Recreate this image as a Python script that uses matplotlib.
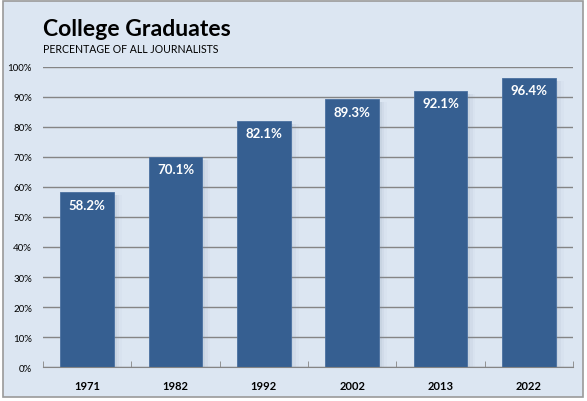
import matplotlib.pyplot as plt
from matplotlib.patches import Rectangle
from matplotlib.ticker import FuncFormatter

years = ["1971", "1982", "1992", "2002", "2013", "2022"]
pct = [58.2, 70.1, 82.1, 89.3, 92.1, 96.4]

plt.rcParams['font.family'] = ['Lato', 'DejaVu Sans']

bg = '#dce6f2'
bar_col = '#365f91'

fig = plt.figure(figsize=(5.87, 4.02), dpi=100, facecolor='white')
fig.patches.append(Rectangle((0.005, 0.01), 0.988, 0.985, transform=fig.transFigure,
                             facecolor=bg, edgecolor='#9a9a9a', linewidth=1.2, zorder=-1))

ax = fig.add_axes([43/587, 1 - 368/402, (573-43)/587, 300/402])
ax.set_facecolor('none')

x = list(range(len(years)))
w = 0.61
# soft shadow to the right of each bar
for xi, v in zip(x, pct):
    for k, a in enumerate([0.10, 0.07, 0.04]):
        ax.add_patch(Rectangle((xi - w/2 + 0.03 + 0.03*k, 0), w, v - 1.0, facecolor='#7f8fa6',
                               alpha=a, edgecolor='none', zorder=1.5))
ax.bar(x, pct, width=w, color=bar_col, edgecolor='#4a70a0', linewidth=0.6, zorder=2)

for xi, v in zip(x, pct):
    ax.text(xi, v - 2.2, f"{v:.1f}%", ha='center', va='top', color='white',
            fontsize=9.5, fontweight='bold', zorder=3)

ax.set_xlim(-0.5, len(years) - 0.5)
ax.set_ylim(0, 100)
ax.set_yticks(range(0, 101, 10))
ax.yaxis.set_major_formatter(FuncFormatter(lambda v, p: f"{int(v)}%"))
ax.yaxis.grid(True, color='#858585', linewidth=1.0)
ax.set_axisbelow(True)
ax.set_xticks(x)
ax.set_xticklabels(years, fontweight='bold', fontsize=8)
ax.tick_params(axis='x', length=0, pad=9)
ax.tick_params(axis='y', length=0, labelsize=7, pad=8)
ax.set_xticks([i - 0.5 for i in range(len(years) + 1)], minor=True)
ax.tick_params(axis='x', which='minor', length=4, color='#858585', direction='in')

for s in ['top', 'right', 'left']:
    ax.spines[s].set_visible(False)
ax.spines['bottom'].set_color('#858585')

fig.text(43/587, 1 - 36/402, "College Graduates", fontsize=16.6, fontweight='bold', ha='left', va='baseline')
fig.text(43/587, 1 - 53/402, "PERCENTAGE OF ALL JOURNALISTS", fontsize=7.6, ha='left', va='baseline')

fig.savefig('out.png', dpi=100, facecolor='white')
